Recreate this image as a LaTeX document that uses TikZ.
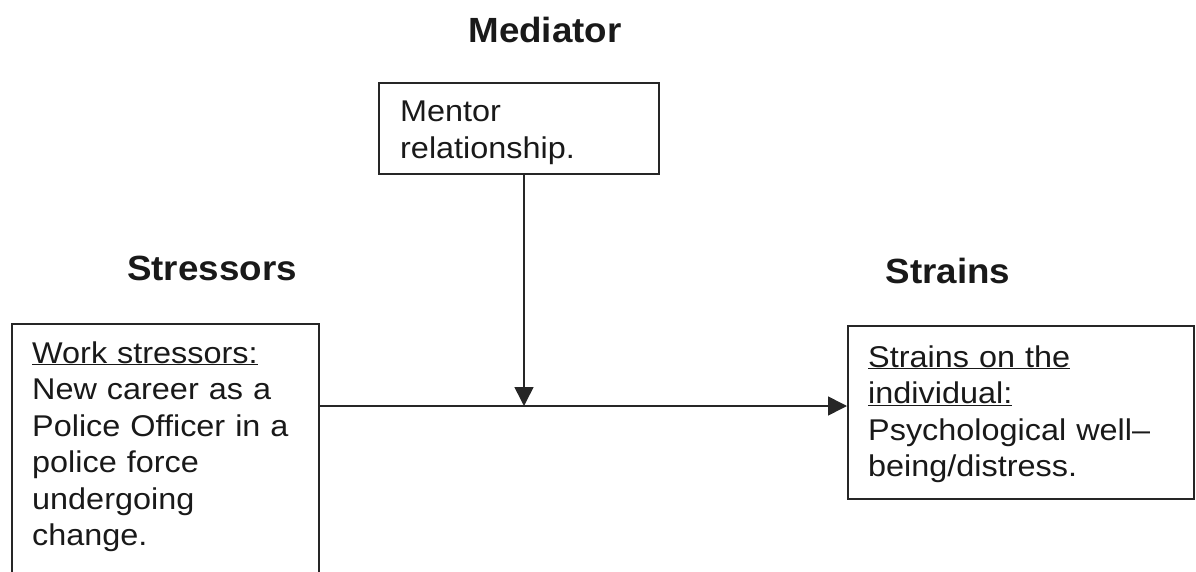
\documentclass[tikz,border=0pt]{standalone}
\usepackage{fontspec}
\newfontfamily\bodyfont{Liberation Sans}[FakeStretch=1.08]
\newfontfamily\headfont{Liberation Sans}[FakeStretch=1.05]
\usetikzlibrary{arrows.meta}
\tikzset{
  frame/.style={draw=black!85, line width=1.6pt, inner sep=0pt, anchor=north west},
  body/.style={font=\bodyfont\fontsize{30}{36.5}\selectfont, text=black!90, text width=330pt, align=left, inner sep=0pt, anchor=base west},
  head/.style={font=\headfont\bfseries\fontsize{35}{40}\selectfont, text=black!90, inner sep=0pt, anchor=base},
  conn/.style={line width=1.6pt, draw=black!85, -{Triangle[length=19pt,width=19pt]}},
}
\begin{document}
\begin{tikzpicture}[x=1pt,y=-1pt]
\useasboundingbox (0,0) rectangle (1196,572);
% boxes
\node[frame, minimum width=280pt, minimum height=91pt] (medbox) at (378,82) {};
\node[frame, minimum width=307pt, minimum height=300pt] (stressbox) at (11,323) {};
\node[frame, minimum width=346pt, minimum height=173pt] (strainbox) at (847,325) {};
% box texts
\node[body] (medtext) at (400,122) {Mentor\\relationship.};
\node[body] (stresstext) at (32,363) {\underline{Work stressors:}\\New career as a\\Police Officer in a\\police force\\undergoing\\change.};
\node[body] (straintext) at (868,367) {\underline{Strains on the}\\\underline{individual:}\\Psychological well–\\being/distress.};
% headings
\node[head] (medhead) at (545,43) {Mediator};
\node[head] (stresshead) at (212,280) {Stressors};
\node[head] (strainhead) at (948,283) {Strains};
% connectors
\coordinate (junction) at (524,406);
\draw[conn] (medbox.south -| junction) -- (junction);
\draw[conn] (stressbox.east |- junction) -- (strainbox.west |- junction);
\end{tikzpicture}
\end{document}
